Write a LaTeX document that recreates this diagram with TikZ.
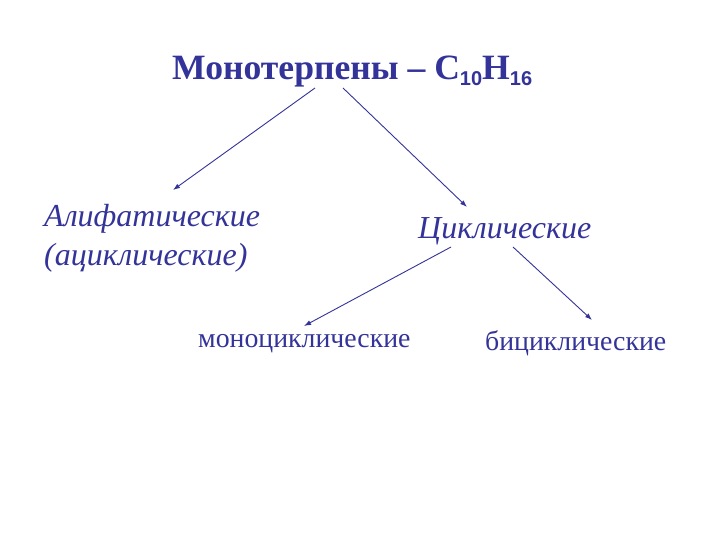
\documentclass[tikz,border=0pt]{standalone}
\usepackage{fontspec}
\setmainfont{Liberation Serif}
\newfontfamily\subsans{Liberation Sans}
\usetikzlibrary{arrows.meta}
\definecolor{navy}{HTML}{333399}
\tikzset{
  lbl/.style={anchor=base west, inner sep=0pt, text=navy},
  arr/.style={draw=navy, line width=0.9pt, -{Latex[length=7pt,width=5pt]}}
}
\begin{document}
\begin{tikzpicture}[x=1pt,y=-1pt]
\useasboundingbox[fill=white] (0,0) rectangle (720,540);
\node[lbl, font=\fontsize{35.6}{40}\selectfont\bfseries] (title) at (172,80)
  {Монотерпены – C\raisebox{-6pt}{\subsans\fontsize{20}{22}\selectfont\bfseries 10}H\raisebox{-6pt}{\subsans\fontsize{20}{22}\selectfont\bfseries 16}};
\node[lbl, font=\fontsize{32}{36}\selectfont\itshape] (alif) at (44,226) {Алифатические};
\node[lbl, font=\fontsize{32}{36}\selectfont\itshape] (acyc) at (44,265) {(ациклические)};
\node[lbl, font=\fontsize{32}{36}\selectfont\itshape] (cycl) at (418,238) {Циклические};
\node[lbl, font=\fontsize{27.8}{32}\selectfont] (mono) at (198,347) {моноциклические};
\node[lbl, font=\fontsize{27.8}{32}\selectfont] (bicy) at (485,350) {бициклические};
\coordinate (t1) at (315,88);
\coordinate (t2) at (343,88);
\coordinate (a1) at (173,190);
\coordinate (c1) at (467,207);
\coordinate (c2) at (451,247);
\coordinate (c3) at (513,247);
\coordinate (m1) at (304,326);
\coordinate (b1) at (592,320);
\draw[arr] (t1) -- (a1);
\draw[arr] (t2) -- (c1);
\draw[arr] (c2) -- (m1);
\draw[arr] (c3) -- (b1);
\end{tikzpicture}
\end{document}
